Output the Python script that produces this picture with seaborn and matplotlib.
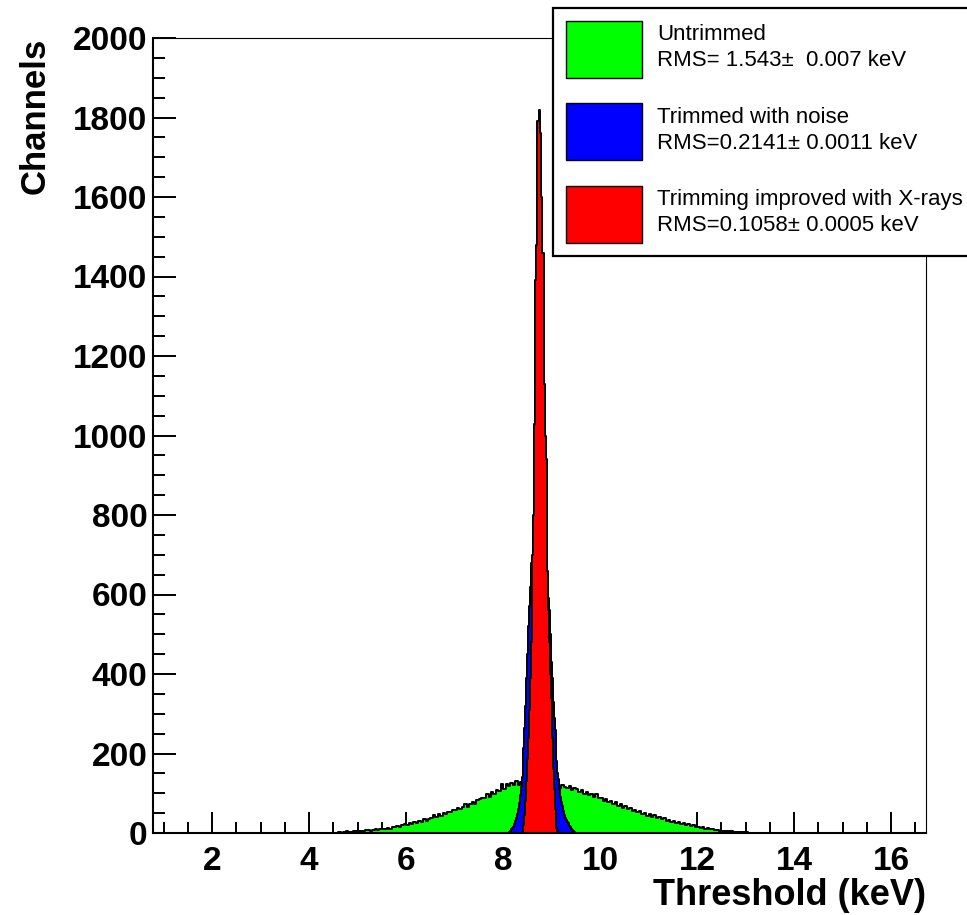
import numpy as np
import pandas as pd
import matplotlib
matplotlib.use("Agg")
import matplotlib.pyplot as plt
import seaborn as sns
from matplotlib.patches import Patch
from matplotlib.ticker import MultipleLocator, FixedLocator

sns.set_theme(style="white")
plt.rcParams['font.family'] = ['Liberation Sans', 'DejaVu Sans']
plt.rcParams['text.color'] = 'black'
plt.rcParams['axes.labelcolor'] = 'black'
plt.rcParams['xtick.color'] = 'black'
plt.rcParams['ytick.color'] = 'black'

# ---------------- data ----------------
# Untrimmed (green): bins of 0.05 keV starting at 4.50 keV
green_start, green_width = 4.50, 0.05
green_counts = [
    1, 0, 2, 1, 3, 4, 2, 3, 4, 5,                  # 4.50
    5, 6, 5, 7, 8, 6, 8, 9, 7, 9,                  # 5.00
    10, 9, 12, 11, 15, 14, 17, 16, 20, 22,         # 5.50
    21, 25, 23, 28, 25, 31, 28, 34, 31, 36,        # 6.00
    38, 45, 40, 48, 44, 51, 47, 53, 52, 58,        # 6.50
    57, 64, 61, 66, 72, 65, 74, 79, 73, 83,        # 7.00
    85, 89, 88, 97, 91, 103, 98, 107, 105, 124,    # 7.50
    111, 123, 117, 126, 121, 131, 122, 128, 125, 130,  # 8.00
    130, 126, 128, 125, 131, 127, 126, 123, 128, 122,  # 8.50
    125, 117, 122, 113, 120, 116, 112, 119, 108, 114,  # 9.00
    111, 102, 107, 99, 104, 96, 99, 91, 97, 87,    # 9.50
    89, 81, 86, 77, 80, 73, 77, 67, 72, 64,        # 10.00
    68, 60, 64, 56, 58, 52, 56, 48, 51, 44,        # 10.50
    48, 41, 45, 37, 40, 34, 37, 31, 33, 28,        # 11.00
    31, 25, 28, 22, 25, 20, 22, 17, 19, 15,        # 11.50
    16, 13, 14, 11, 12, 9, 10, 7, 8, 6,            # 12.00
    6, 5, 5, 4, 4, 3, 3, 3, 2, 2,                  # 12.50
    2, 1, 1, 1, 1, 0, 1, 0, 0, 1,                  # 13.00
]

# Trimmed with noise (blue): bins of 0.02 keV starting at 8.12 keV
blue_start, blue_width = 8.12, 0.02
blue_counts = [
    3, 6, 9, 12, 16, 22, 30, 38, 48, 60,           # 8.12
    75, 95, 115, 140, 175, 215, 265, 320, 390, 450,  # 8.32
    520, 570, 620, 680, 690, 750, 770, 780, 790, 800,  # 8.52
    800, 800, 790, 780, 760, 740, 720, 690, 660, 630,  # 8.72
    590, 560, 500, 430, 390, 330, 290, 260, 210, 180,  # 8.92
    150, 135, 110, 90, 78, 68, 55, 45, 38, 32,     # 9.12
    28, 24, 18, 14, 10, 7, 5, 3, 1,                # 9.32
]

# Trimming improved with X-rays (red): bins of 0.02 keV starting at 8.40 keV
red_start, red_width = 8.40, 0.02
red_counts = [
    5, 20, 45, 80, 130, 185, 240, 310, 390, 480,   # 8.40
    700, 800, 1030, 1390, 1480, 1790, 1790, 1820, 1760, 1600,  # 8.60
    1460, 1460, 1130, 1000, 940, 660, 560, 480, 400, 340,      # 8.80
    240, 160, 110, 60, 30, 12, 4,                  # 9.00
]

series_names = ["Untrimmed", "Trimmed with noise", "Trimming improved with X-rays"]
series_rms = ["RMS= 1.543\u00b1  0.007 keV", "RMS=0.2141\u00b1 0.0011 keV",
              "RMS=0.1058\u00b1 0.0005 keV"]
series_colors = ["#00ff00", "#0000ff", "#ff0000"]

x_ticks = [2, 4, 6, 8, 10, 12, 14, 16]
y_ticks = [0, 200, 400, 600, 800, 1000, 1200, 1400, 1600, 1800, 2000]
x_label = "Threshold (keV)"
y_label = "Channels"

# ---------------- figure ----------------
W, H = 967, 915
fig = plt.figure(figsize=(W / 100, H / 100), dpi=100)
ax = fig.add_axes([153 / W, 1 - 833 / H, (926 - 153) / W, (833 - 38) / H])
ax.set_facecolor("white")


def frame(start, width, counts):
    counts = np.asarray(counts, dtype=float)
    n = len(counts)
    centers = start + width * (np.arange(n) + 0.5)
    return pd.DataFrame({"x": centers, "w": counts}), (start, start + n * width)


for (start, width, counts), color in zip(
        [(green_start, green_width, green_counts),
         (blue_start, blue_width, blue_counts),
         (red_start, red_width, red_counts)], series_colors):
    df, brange = frame(start, width, counts)
    sns.histplot(data=df, x="x", weights="w", binwidth=width, binrange=brange,
                 element="step", fill=True, color=color, alpha=1,
                 edgecolor="black", linewidth=1.4, ax=ax)

ax.set_xlim(0.78, 16.72)
ax.set_ylim(0, 2000)

ax.xaxis.set_major_locator(FixedLocator(x_ticks))
ax.xaxis.set_minor_locator(MultipleLocator(0.5))
ax.yaxis.set_major_locator(FixedLocator(y_ticks))
ax.yaxis.set_minor_locator(MultipleLocator(50))
ax.set_xticklabels([str(t) for t in x_ticks])
ax.set_yticklabels([str(t) for t in y_ticks])

ax.tick_params(axis="both", which="both", direction="in", colors="black",
               width=1.4, top=False, right=False, bottom=True, left=True)
ax.tick_params(axis="x", which="major", length=15, pad=9, labelsize=24)
ax.tick_params(axis="x", which="minor", length=8)
ax.tick_params(axis="y", which="major", length=16.5, pad=4, labelsize=24)
ax.tick_params(axis="y", which="minor", length=8.6)
for lab in ax.get_xticklabels() + ax.get_yticklabels():
    lab.set_fontweight("bold")
    lab.set_color("black")

for side, lw in [("left", 1.5), ("bottom", 1.5), ("top", 0.8), ("right", 0.8)]:
    ax.spines[side].set_visible(True)
    ax.spines[side].set_color("black")
    ax.spines[side].set_linewidth(lw)

ax.set_xlabel(x_label, fontsize=26, fontweight="bold", loc="right", color="black")
ax.set_ylabel(y_label, fontsize=25, fontweight="bold", loc="top", color="black")
ax.xaxis.set_label_coords(1.0, (833 - 878) / 795)
ax.yaxis.set_label_coords((52 - 153) / 773, 1.0)

handles = [Patch(facecolor=c, edgecolor="black", linewidth=1) for c in series_colors]
labels = [f"{n}\n{r}" for n, r in zip(series_names, series_rms)]
leg = fig.legend(handles, labels, loc="upper left",
                 bbox_to_anchor=(553 / W, 1 - 8 / H), bbox_transform=fig.transFigure,
                 borderaxespad=0, frameon=True, fancybox=False, shadow=False,
                 framealpha=1, edgecolor="black", borderpad=0.58,
                 handlelength=3.42, handleheight=3.57, labelspacing=1.15,
                 handletextpad=0.68, prop={"size": 16, "family": "Liberation Sans"})
leg.get_frame().set_linewidth(1.6)
for t in leg.get_texts():
    t.set_linespacing(1.3)
    t.set_color("black")

fig.savefig("out.png", dpi=100, facecolor="white")
